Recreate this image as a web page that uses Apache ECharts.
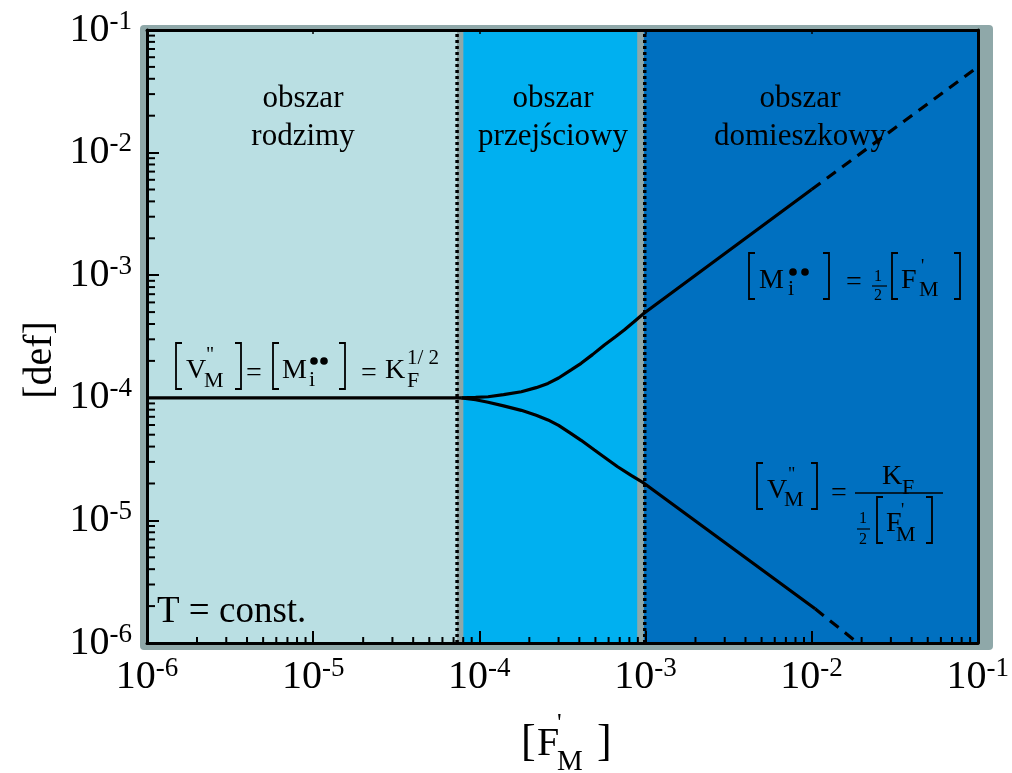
<!DOCTYPE html>
<html><head><meta charset="utf-8">
<script src="https://cdn.jsdelivr.net/npm/echarts@6/dist/echarts.min.js"></script>
<style>html,body{margin:0;padding:0;background:#fff}#c{width:1012px;height:773px}</style>
</head><body><div id="c"></div>
<script>
// ---- data ----
const xRange = [1e-6, 1e-1];
const yRange = [1e-6, 1e-1];
const tickExponents = [-6, -5, -4, -3, -2, -1];
const regionNames = [['obszar', 'rodzimy'], ['obszar', 'przejściowy'], ['obszar', 'domieszkowy']];
const regionBounds = [[1e-6, 7.35e-5], [8.0e-5, 8.95e-4], [9.75e-4, 1e-1]];
const separatorBands = [[7.35e-5, 8.0e-5], [8.95e-4, 9.75e-4]];
const separatorLines = [7.35e-5, 9.9e-4];
const flatX = [1e-6, 7.8e-5];
const flatY = [1e-4, 1e-4];
const upperX = [7.8e-5, 9.5e-5, 1.13e-4, 1.4e-4, 1.79e-4, 2.2e-4, 2.59e-4, 3.0e-4, 3.57e-4, 4.1e-4, 4.8e-4, 5.66e-4, 6.6e-4, 7.45e-4, 8.5e-4, 9.8e-4, 1e-2];
const upperY = [1e-4, 1.008e-4, 1.02e-4, 1.06e-4, 1.12e-4, 1.21e-4, 1.31e-4, 1.45e-4, 1.69e-4, 1.91e-4, 2.25e-4, 2.70e-4, 3.15e-4, 3.57e-4, 4.15e-4, 4.89e-4, 5e-3];
const upperDashX = [1e-2, 1e-1];
const upperDashY = [5e-3, 5e-2];
const lowerX = [7.8e-5, 9.5e-5, 1.13e-4, 1.4e-4, 1.79e-4, 2.2e-4, 2.59e-4, 3.0e-4, 3.57e-4, 4.1e-4, 4.93e-4, 5.8e-4, 6.8e-4, 8.2e-4, 9.8e-4, 1.05e-2];
const lowerY = [1e-4, 9.65e-5, 9.2e-5, 8.6e-5, 7.9e-5, 7.2e-5, 6.6e-5, 5.95e-5, 5.1e-5, 4.5e-5, 3.75e-5, 3.2e-5, 2.74e-5, 2.33e-5, 2.01e-5, 1.9e-6];
const lowerDashX = [1.05e-2, 1.9e-2];
const lowerDashY = [1.9e-6, 1.0e-6];

// ---- styles ----
const F = '"Liberation Serif", "Times New Roman", serif';
const regionColors = ['#BADFE3', '#00B0F0', '#0070C0'];
const frameGray = '#8FA8A9';
const pairs = (xs, ys) => xs.map((x, i) => [x, ys[i]]);

const minorVals = [];
for (let e = -6; e < -1; e++) for (let m = 2; m <= 9; m++) minorVals.push(m * Math.pow(10, e));

function txt(x, y, s, size, align) {
  const a = align || 'left';
  return {
    type: 'text', x: x, y: y, z: 50,
    style: { text: s, fontSize: size, fontFamily: F, fill: '#000',
      align: a, textAlign: a, verticalAlign: 'middle', textVerticalAlign: 'middle' }
  };
}
function brL(x, y1, y2) {
  return { type: 'polyline', z: 50, shape: { points: [[x + 6, y1], [x, y1], [x, y2], [x + 6, y2]] },
    style: { stroke: '#000', lineWidth: 1.8, fill: null } };
}
function brR(x, y1, y2) {
  return { type: 'polyline', z: 50, shape: { points: [[x - 6, y1], [x, y1], [x, y2], [x - 6, y2]] },
    style: { stroke: '#000', lineWidth: 1.8, fill: null } };
}
function dot(cx, cy) {
  return { type: 'circle', z: 50, shape: { cx: cx, cy: cy, r: 3.8 }, style: { fill: '#000' } };
}
function hl(x1, x2, y, w) {
  return { type: 'line', z: 50, shape: { x1: x1, y1: y, x2: x2, y2: y }, style: { stroke: '#000', lineWidth: w || 1.5 } };
}

const graphics = [
  { type: 'rect', z: -10, shape: { x: 140, y: 25, width: 853, height: 625, r: 4 }, style: { fill: frameGray } },
  // region titles
  txt(303, 99, regionNames[0][0], 31, 'center'),
  txt(303, 137, regionNames[0][1], 31, 'center'),
  txt(553, 99, regionNames[1][0], 31, 'center'),
  txt(553, 137, regionNames[1][1], 31, 'center'),
  txt(800, 99, regionNames[2][0], 31, 'center'),
  txt(800, 137, regionNames[2][1], 31, 'center'),
  // T = const.
  txt(157, 612, 'T = const.', 37),
  // formula 1
  brL(176, 343, 389), txt(186, 371, 'V', 28), txt(206, 356, '"', 20), txt(204, 381, 'M', 22), brR(241, 343, 389),
  txt(246, 374, '=', 28),
  brL(273, 343, 389), txt(282, 371, 'M', 28), dot(314, 361), dot(324, 361), txt(309, 380, 'i', 22), brR(345, 343, 389),
  txt(361, 374, '=', 28),
  txt(385, 371, 'K', 28), txt(407, 358, '1/ 2', 21), txt(407, 381, 'F', 22),
  // formula 2
  brL(749, 253, 299), txt(759, 281, 'M', 28), dot(793, 272), dot(805, 272), txt(788, 289, 'i', 22), brR(829, 253, 299),
  txt(846, 283, '=', 28),
  txt(874, 277, '1', 16), hl(872, 887, 286, 1.2), txt(874, 296, '2', 16),
  brL(892, 253, 299), txt(901, 281, 'F', 28), txt(921, 267, '\'', 18), txt(919, 290, 'M', 22), brR(960, 253, 299),
  // formula 3
  brL(757, 463, 509), txt(767, 491, 'V', 28), txt(788, 475, '"', 18), txt(784, 500, 'M', 22), brR(817, 463, 509),
  txt(831, 494, '=', 28),
  hl(855, 943, 493, 1.5),
  txt(882, 477, 'K', 28), txt(902, 488, 'F', 22),
  txt(859, 519, '1', 16), hl(857, 870, 529, 1.2), txt(859, 540, '2', 16),
  brL(877, 497, 543), txt(886, 524, 'F', 28), txt(901, 511, '\'', 18), txt(896, 535, 'M', 22), brR(932, 497, 543),
  // axis names
  { type: 'text', x: 40, y: 360, rotation: Math.PI / 2, z: 50,
    style: { text: '[def]', fontSize: 40, fontFamily: F, fill: '#000', align: 'center', textAlign: 'center', verticalAlign: 'middle', textVerticalAlign: 'middle' } },
  txt(521, 743, '[', 44), txt(537, 744, 'F', 40), txt(557, 724, '\'', 26), txt(557, 762, 'M', 29), txt(597, 743, ']', 44)
];

const labelFmt = v => {
  const e = Math.round(Math.log10(v));
  return tickExponents.indexOf(e) >= 0 ? '{b|10}{s|' + e + '}' : '';
};
const labelRich = {
  b: { fontSize: 40, fontFamily: F, color: '#000', lineHeight: 44 },
  s: { fontSize: 27, fontFamily: F, color: '#000', lineHeight: 27, verticalAlign: 'top' }
};

const axisBase = {
  type: 'log', logBase: 10, z: 5,
  splitLine: { show: false },
  axisLine: { show: true, lineStyle: { color: '#000', width: 3 } }
};

const curveStyle = { color: '#000', width: 3.2 };
const chart = echarts.init(document.getElementById('c'), null, { renderer: 'canvas' });
chart.setOption({
  animation: false,
  backgroundColor: '#fff',
  grid: { left: 147, top: 30, width: 835, height: 613, show: false },
  xAxis: [
    Object.assign({}, axisBase, { min: xRange[0], max: xRange[1], position: 'bottom',
      axisTick: { show: true, inside: true, length: 12, lineStyle: { color: '#000', width: 2 } },
      axisLabel: { formatter: labelFmt, rich: labelRich, margin: 12, fontFamily: F } }),
    Object.assign({}, axisBase, { min: xRange[0], max: xRange[1], position: 'top',
      axisTick: { show: true, inside: true, length: 4, lineStyle: { color: '#000', width: 1.5 } },
      axisLabel: { show: false } })
  ],
  yAxis: [
    Object.assign({}, axisBase, { min: yRange[0], max: yRange[1], position: 'left',
      axisTick: { show: true, inside: true, length: 12, lineStyle: { color: '#000', width: 2 } },
      axisLabel: { formatter: labelFmt, rich: labelRich, margin: 15, fontFamily: F } }),
    Object.assign({}, axisBase, { min: yRange[0], max: yRange[1], position: 'right',
      axisTick: { show: false }, axisLabel: { show: false } })
  ],
  graphic: { elements: graphics },
  series: [
    { type: 'line', z: 1, data: [[1e-6, 1e-6]], showSymbol: false, lineStyle: { opacity: 0 }, silent: true,
      markArea: { silent: true, label: { show: false },
        data: regionBounds.map((b, i) => [{ xAxis: b[0], itemStyle: { color: regionColors[i], opacity: 1 } }, { xAxis: b[1] }])
          .concat(separatorBands.map(b => [{ xAxis: b[0], itemStyle: { color: frameGray, opacity: 1 } }, { xAxis: b[1] }])) } }
  ].concat(separatorLines.map(v => ({
      type: 'line', z: 2, data: [[v, yRange[0]], [v, yRange[1]]], showSymbol: false, silent: true,
      lineStyle: { color: '#000', width: 3.5, type: [3, 3] }
    }))).concat([
    { type: 'line', z: 3, data: pairs(flatX, flatY), showSymbol: false, lineStyle: curveStyle },
    { type: 'line', z: 3, data: pairs(upperX, upperY), showSymbol: false, lineStyle: curveStyle },
    { type: 'line', z: 3, data: pairs(upperDashX, upperDashY), showSymbol: false, lineStyle: Object.assign({ type: [11, 8] }, curveStyle) },
    { type: 'line', z: 3, data: pairs(lowerX, lowerY), showSymbol: false, lineStyle: curveStyle },
    { type: 'line', z: 3, data: pairs(lowerDashX, lowerDashY), showSymbol: false, lineStyle: Object.assign({ type: [11, 8] }, curveStyle) },
    { type: 'custom', z: 6, silent: true, clip: false, data: minorVals.map(v => [v, yRange[0]]),
      renderItem: (params, api) => {
        const p = api.coord([api.value(0), yRange[0]]);
        return { type: 'line', shape: { x1: p[0], y1: p[1], x2: p[0], y2: p[1] - 6 }, style: { stroke: '#000', lineWidth: 2 } };
      } },
    { type: 'custom', z: 6, silent: true, clip: false, data: minorVals.map(v => [xRange[0], v]),
      renderItem: (params, api) => {
        const p = api.coord([xRange[0], api.value(1)]);
        return { type: 'line', shape: { x1: p[0], y1: p[1], x2: p[0] + 8, y2: p[1] }, style: { stroke: '#000', lineWidth: 2 } };
      } }
  ])
});
</script></body></html>
